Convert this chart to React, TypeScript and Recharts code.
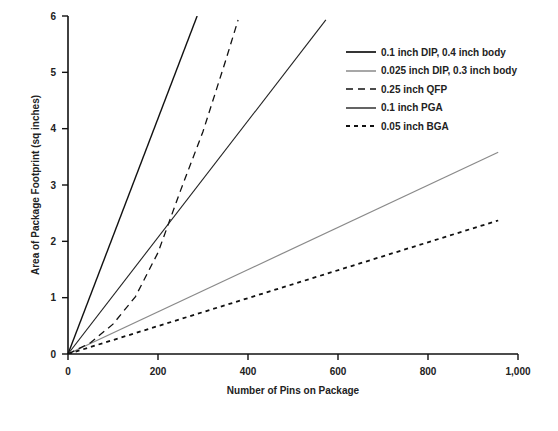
import { LineChart, Line, XAxis, YAxis } from "recharts"

const xTicks = [0, 200, 400, 600, 800, 1000]
const yTicks = [0, 1, 2, 3, 4, 5, 6]

// pins -> sq inches
const dip04 = [
  { x: 0, y: 0 },
  { x: 287, y: 6 },
]
const dip03 = [
  { x: 0, y: 0 },
  { x: 956, y: 3.58 },
]
const qfp = [
  { x: 0, y: 0 },
  { x: 50, y: 0.2 },
  { x: 100, y: 0.53 },
  { x: 150, y: 1.02 },
  { x: 200, y: 1.8 },
  { x: 250, y: 2.9 },
  { x: 300, y: 3.95 },
  { x: 350, y: 5.2 },
  { x: 378, y: 5.93 },
]
const pga = [
  { x: 0, y: 0 },
  { x: 573, y: 5.93 },
]
const bga = [
  { x: 0, y: 0 },
  { x: 956, y: 2.37 },
]

const series = [
  { name: "0.1 inch DIP, 0.4 inch body", data: dip04, color: "#111", width: 1.4, dash: undefined },
  { name: "0.025 inch DIP, 0.3 inch body", data: dip03, color: "#8a8a8a", width: 1.2, dash: undefined },
  { name: "0.25 inch QFP", data: qfp, color: "#111", width: 1.3, dash: "7 5" },
  { name: "0.1 inch PGA", data: pga, color: "#222", width: 1.1, dash: undefined },
  { name: "0.05 inch BGA", data: bga, color: "#111", width: 1.8, dash: "4 4" },
]

const font = "'Liberation Sans', Arial, sans-serif"

function LegendBox() {
  return (
    <div
      style={{
        position: "absolute",
        top: 35,
        left: 337,
        fontFamily: font,
        fontSize: 10,
        fontWeight: "bold",
        color: "#222",
      }}
    >
      {series.map((s) => (
        <div key={s.name} style={{ display: "flex", alignItems: "center", height: 18.5 }}>
          <svg width={32} height={6} style={{ marginRight: 4 }}>
            <line x1={1} y1={3} x2={31} y2={3} stroke={s.color} strokeWidth={s.width + 0.3} strokeDasharray={s.dash} />
          </svg>
          <span>{s.name}</span>
        </div>
      ))}
    </div>
  )
}

export default function App() {
  return (
    <div style={{ position: "relative", background: "#fff", width: 550, height: 423 }}>
      <LineChart width={550} height={423} margin={{ top: 8, right: 40, bottom: 47, left: 15 }}>
        <XAxis
          type="number"
          dataKey="x"
          domain={[0, 1000]}
          ticks={xTicks}
          tickFormatter={(v: number) => v.toLocaleString("en-US")}
          axisLine={{ stroke: "#111", strokeWidth: 1.6 }}
          tickLine={{ stroke: "#111", strokeWidth: 1.4 }}
          tickSize={6}
          tickMargin={8}
          height={30}
          tick={{ fill: "#222", fontSize: 10, fontWeight: "bold", fontFamily: font }}
          label={{ value: "Number of Pins on Package", position: "center", dy: 21, fill: "#222", fontSize: 10, fontWeight: "bold", fontFamily: font }}
        />
        <YAxis
          type="number"
          dataKey="y"
          domain={[0, 6]}
          ticks={yTicks}
          allowDataOverflow
          axisLine={{ stroke: "#111", strokeWidth: 1.6 }}
          tickLine={{ stroke: "#111", strokeWidth: 1.4 }}
          tickSize={6}
          tickMargin={6}
          width={45}
          tick={{ fill: "#222", fontSize: 10, fontWeight: "bold", fontFamily: font }}
          label={{ value: "Area of Package Footprint (sq inches)", angle: -90, position: "center", dx: -10, fill: "#222", fontSize: 10, fontWeight: "bold", fontFamily: font }}
        />
        {series.map((s) => (
          <Line
            key={s.name}
            data={s.data}
            dataKey="y"
            name={s.name}
            type="linear"
            stroke={s.color}
            strokeWidth={s.width}
            strokeDasharray={s.dash}
            dot={false}
            activeDot={false}
            isAnimationActive={false}
          />
        ))}
      </LineChart>
      <LegendBox />
    </div>
  )
}
